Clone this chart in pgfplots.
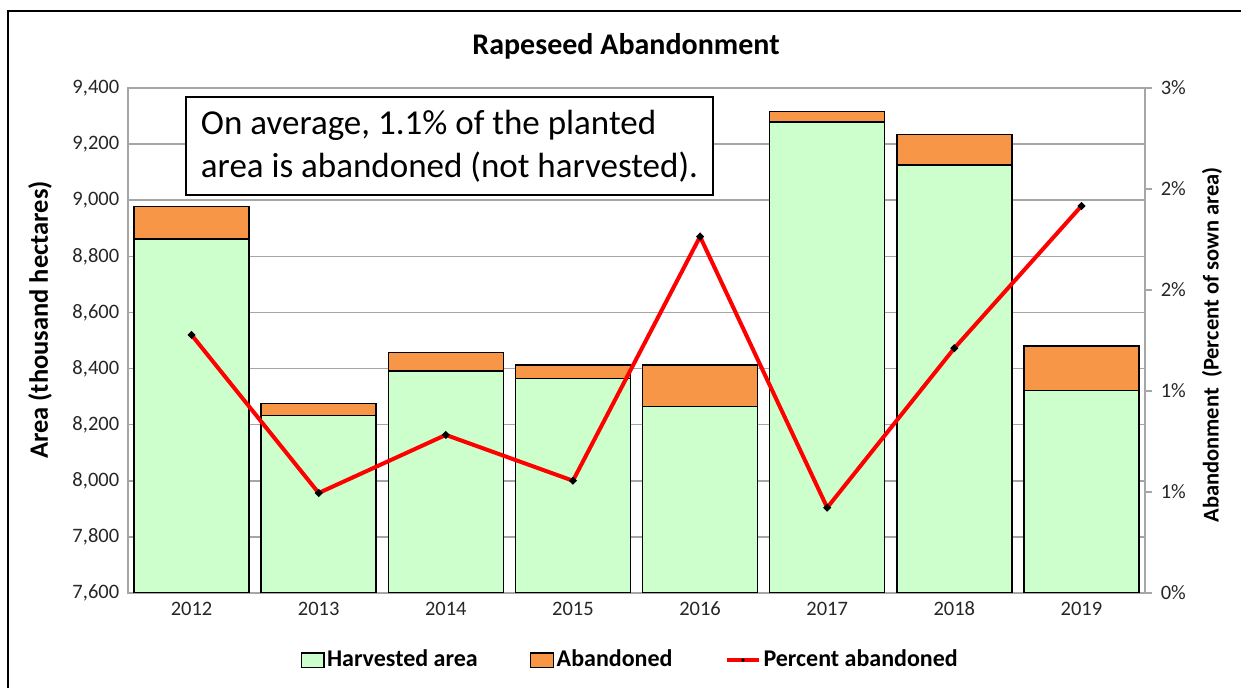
\documentclass[border=0pt]{standalone}
\usepackage{fontspec}
\setmainfont{Carlito}
\usepackage{pgfplots}
\pgfplotsset{compat=1.18}
\definecolor{harv}{HTML}{CCFFCC}
\definecolor{aband}{HTML}{F79646}
\definecolor{gridgray}{HTML}{A6A6A6}
\begin{document}
\begin{tikzpicture}
  \useasboundingbox (0,0) rectangle (496.4pt,275.2pt);
  \draw[line width=0.8pt] (3.2pt,0) -- (3.2pt,270.8pt) -- (496.4pt,270.8pt);
  \node[font=\fontsize{12}{14}\selectfont\bfseries] at (250.4pt,256.8pt) {Rapeseed Abandonment};
  \node[font=\fontsize{10.6}{12}\selectfont\bfseries, rotate=90] at (16pt,147.2pt) {Area (thousand hectares)};
  \node[font=\fontsize{9}{11}\selectfont\bfseries, rotate=90] at (484.8pt,137.2pt) {Abandonment\ \ (Percent of sown area)};

  \begin{axis}[
      at={(51.2pt,38pt)}, anchor=south west,
      width=406.8pt, height=202pt, scale only axis,
      ybar stacked, bar width=46pt,
      xmin=-0.5, xmax=7.5, xtick={0,...,7},
      xticklabels={2012,2013,2014,2015,2016,2017,2018,2019},
      ymin=7600, ymax=9400, ytick={7600,7800,...,9400},
      ymajorgrids, grid style={gridgray, line width=0.6pt},
      axis line style={gridgray, line width=0.6pt},
      major tick length=0pt,
      tick label style={font=\fontsize{8.2}{10}\selectfont, text=black!85},
      /pgf/number format/.cd, 1000 sep={,}, assume math mode=true, /pgfplots/.cd,
      legend style={at={(0.494,-0.133)}, anchor=center, draw=none,
        legend columns=3, font=\fontsize{9.6}{11}\selectfont\bfseries,
        nodes={inner xsep=1pt},
        /tikz/every even column/.append style={column sep=20pt}},
      legend image code/.code={\draw[#1, line width=0.5pt] (0cm,-0.1cm) rectangle (0.32cm,0.1cm);},
    ]
    \addplot[fill=harv, draw=black, line width=0.6pt] coordinates
      {(0,8862)(1,8232)(2,8392)(3,8365)(4,8264)(5,9278)(6,9126)(7,8321)};
    \addplot[fill=aband, draw=black, line width=0.6pt] coordinates
      {(0,115)(1,44)(2,66)(3,48)(4,149)(5,38)(6,109)(7,159)};
    \legend{Harvested area, Abandoned}
    \addlegendimage{legend image code/.code={
        \draw[red, line width=1.6pt] (0cm,0cm) -- (0.45cm,0cm);
        \fill[black] (0.225cm,0cm) circle (0.5pt);}}
    \addlegendentry{Percent abandoned}
  \end{axis}

  \begin{axis}[
      at={(51.2pt,38pt)}, anchor=south west,
      width=406.8pt, height=202pt, scale only axis,
      xmin=-0.5, xmax=7.5,
      axis x line=none, axis y line*=right,
      ymin=0, ymax=3, ytick={0,0.6,1.2,1.8,2.4,3},
      yticklabels={0\%,1\%,1\%,2\%,2\%,3\%},
      axis line style={gridgray, line width=0.6pt},
      tick style={gridgray, line width=0.6pt},
      major tick length=2.8pt, tick align=outside,
      tick label style={font=\fontsize{8.2}{10}\selectfont, text=black!85},
    ]
    \addplot[red, line width=1.6pt, mark=*, mark size=0.5pt,
      mark options={fill=black, draw=black}] coordinates
      {(0,1.533)(1,0.594)(2,0.939)(3,0.667)(4,2.117)(5,0.507)(6,1.454)(7,2.299)};
  \end{axis}

  \node[draw=black, line width=0.8pt, fill=white, align=left,
        minimum width=210.8pt, minimum height=39.2pt,
        font=\fontsize{14}{17.2}\selectfont]
    at (179.8pt,216.8pt) {On average, 1.1\% of the planted\\area is abandoned (not harvested).};
\end{tikzpicture}
\end{document}
